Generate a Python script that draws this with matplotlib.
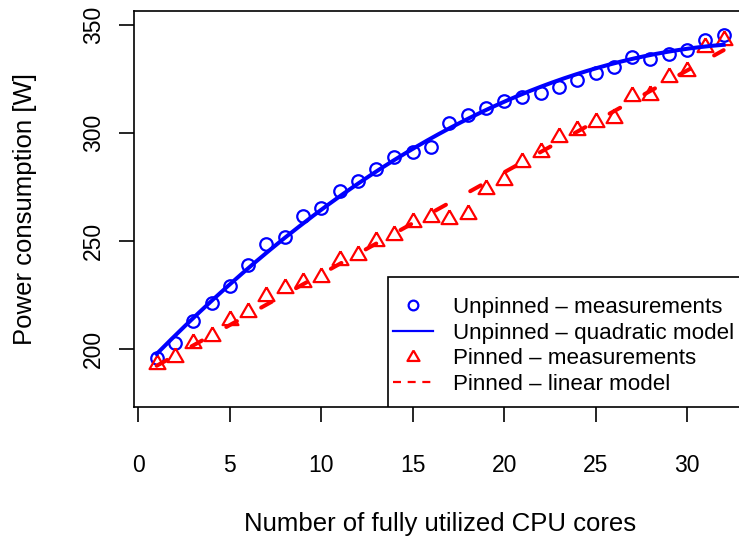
import matplotlib
matplotlib.use("Agg")
import matplotlib.pyplot as plt
from matplotlib.lines import Line2D
from matplotlib.patches import Rectangle
import numpy as np

plt.rcParams['font.family'] = ['Liberation Sans', 'DejaVu Sans']

# measured power consumption [W] per number of fully utilized cores
cores = np.arange(1, 33)
unpinned = [196, 203, 213, 221.5, 229.2, 239.2, 248.5, 252, 261.5, 265.2,
            273.1, 277.7, 283.4, 289.2, 291.5, 293.8, 304.9, 308.5, 311.5, 314.8,
            316.9, 318.8, 321.5, 324.6, 327.7, 330.8, 335.4, 334.6, 336.9, 338.8,
            343.4, 345.4]
pinned = [193, 196.4, 203, 206, 213.3, 217.2, 224.4, 228.3, 231.3, 233.3,
          241.3, 243.6, 250, 253, 259, 261.4, 260.3, 262.8, 274.4, 278.5,
          286.5, 291.3, 298.2, 301.3, 305.2, 307.1, 317.2, 317.9, 325.9, 328.7,
          339.9, 343]
labels = ['Unpinned – measurements', 'Unpinned – quadratic model',
          'Pinned – measurements', 'Pinned – linear model']

# models
quad = np.polyfit(cores, unpinned, 2)
lin = np.polyfit(cores, pinned, 1)
xs = np.linspace(1, 32, 200)

tri = [(0, 1), (0.866, -0.5), (-0.866, -0.5), (0, 1)]  # R style triangle (pch 2)

fig = plt.figure(figsize=(7.39, 5.36), dpi=100)
ax = fig.add_axes([0.1813, 0.2407, 0.8286, 0.7394])

ax.plot(cores, unpinned, linestyle='none', marker='o', ms=9, mfc='none',
        mec='blue', mew=1.6)
ax.plot(cores, pinned, linestyle='none', marker=tri, ms=13.2, mfc='none',
        mec='red', mew=1.6)
ax.plot(xs, np.polyval(quad, xs), color='blue', lw=2.9)
ax.plot(xs, np.polyval(lin, xs), color='red', lw=2.9, dashes=(3.0, 6.9),
        dash_capstyle='round')

ax.set_xlim(-0.24, 33.24)
ax.set_ylim(173.2, 356.8)
ax.set_xticks([0, 5, 10, 15, 20, 25, 30])
ax.set_yticks([200, 250, 300, 350])
for s in ax.spines.values():
    s.set_linewidth(1.2)
ax.tick_params(length=11, width=1.2, labelsize=16.5)
ax.tick_params(axis='x', pad=23)
ax.tick_params(axis='y', pad=9.9)
for t in ax.get_yticklabels():
    t.set_rotation(90)
    t.set_va('center')

ax.set_xlabel('Number of fully utilized CPU cores', fontsize=18.5)
ax.set_ylabel('Power consumption [W]', fontsize=18.5)
ax.xaxis.set_label_coords(0.5, -0.265)
ax.yaxis.set_label_coords(-0.1584, 0.5)

# legend box (bottom right, touching the plot frame)
ax.add_patch(Rectangle((0.4153, 0), 0.6, 0.3288, transform=ax.transAxes,
                       facecolor='white', edgecolor='black', lw=1.2, zorder=3))
handles = [
    Line2D([], [], linestyle='none', marker='o', ms=7, mfc='none', mec='blue', mew=1.6),
    Line2D([], [], color='blue', lw=1.6),
    Line2D([], [], linestyle='none', marker=tri, ms=10, mfc='none', mec='red', mew=1.6),
    Line2D([], [], color='red', lw=1.6, dashes=(3.6, 3.0)),
]
leg = ax.legend(handles, labels, loc='upper left', bbox_to_anchor=(0.423, 0.2774),
                frameon=False, fontsize=16.1, borderpad=0, borderaxespad=0,
                handlelength=1.786, handletextpad=0.89, labelspacing=0.21)
leg.set_zorder(4)

fig.savefig('out.png', dpi=100)
